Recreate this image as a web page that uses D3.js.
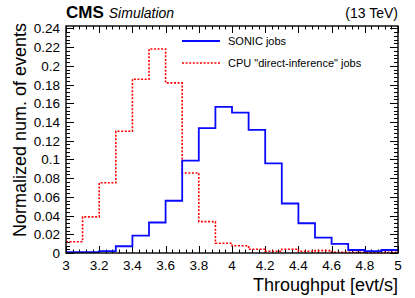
<!DOCTYPE html>
<html>
<head>
<meta charset="utf-8">
<script src="https://cdn.jsdelivr.net/npm/d3@7"></script>
<style>
  body { margin: 0; background: #fff; }
  text { font-family: "Liberation Sans", Arial, sans-serif; fill: #000; }
</style>
</head>
<body>
<div id="chart"></div>
<script>
// bin edges (evt/s), 0.1 wide
const binEdges = [3.0, 3.1, 3.2, 3.3, 3.4, 3.5, 3.6, 3.7, 3.8, 3.9, 4.0,
  4.1, 4.2, 4.3, 4.4, 4.5, 4.6, 4.7, 4.8, 4.9, 5.0]

const sonicJobs = [0.001, 0.001, 0.002, 0.0072, 0.0186, 0.0326, 0.0558, 0.0987,
  0.1334, 0.156, 0.150, 0.1316, 0.0958, 0.0529, 0.0318, 0.0165, 0.0097, 0.0032,
  0.0021, 0.0032]

const cpuJobs = [0.012, 0.0386, 0.075, 0.130, 0.1856, 0.218, 0.1817, 0.0855,
  0.0335, 0.0104, 0.0078, 0.004, 0.0018, 0.004, 0.0018, 0.0025, 0.0008, 0.0008,
  0.0005, 0.0008]

const xTicks = [3, 3.2, 3.4, 3.6, 3.8, 4, 4.2, 4.4, 4.6, 4.8, 5]
const xTickLabels = ['3', '3.2', '3.4', '3.6', '3.8', '4', '4.2', '4.4', '4.6', '4.8', '5']
const yTicks = [0, 0.02, 0.04, 0.06, 0.08, 0.1, 0.12, 0.14, 0.16, 0.18, 0.2, 0.22, 0.24]
const yTickLabels = ['0', '0.02', '0.04', '0.06', '0.08', '0.1', '0.12', '0.14', '0.16', '0.18', '0.2', '0.22', '0.24']

const seriesNames = ['SONIC jobs', 'CPU "direct-inference" jobs']

const render = () => {
  const width = 415
  const height = 298
  const margin = { top: 26, right: 17, bottom: 45, left: 66 }

  const svg = d3
    .select('#chart')
    .append('svg')
    .attr('width', width)
    .attr('height', height)

  const xScale = d3
    .scaleLinear()
    .domain([3, 5])
    .range([margin.left, width - margin.right])

  const yScale = d3
    .scaleLinear()
    .domain([0, 0.2425])
    .range([height - margin.bottom, margin.top])

  const x0 = margin.left
  const x1 = width - margin.right
  const y0 = height - margin.bottom
  const y1 = margin.top

  // minor ticks, ROOT style (5 per major division)
  const xMinor = d3.range(0, 51).map((i) => 3 + i * 0.04)
  const yMinor = d3.range(0, 61).map((i) => i * 0.004).filter((v) => v <= 0.2425)

  const ticks = svg.append('g').attr('stroke', '#000').attr('stroke-width', 1)

  const addXTicks = (values, len) => {
    values.forEach((v) => {
      const x = Math.round(xScale(v)) + 0.5
      ticks.append('line').attr('x1', x).attr('x2', x).attr('y1', y0).attr('y2', y0 - len)
      ticks.append('line').attr('x1', x).attr('x2', x).attr('y1', y1).attr('y2', y1 + len)
    })
  }
  const addYTicks = (values, len) => {
    values.forEach((v) => {
      const y = Math.round(yScale(v)) + 0.5
      ticks.append('line').attr('x1', x0).attr('x2', x0 + len).attr('y1', y).attr('y2', y)
      ticks.append('line').attr('x1', x1).attr('x2', x1 - len).attr('y1', y).attr('y2', y)
    })
  }
  addXTicks(xMinor, 3.5)
  addXTicks(xTicks, 7)
  addYTicks(yMinor, 4)
  addYTicks(yTicks, 8)

  // histograms
  const stepLine = (values) => {
    const pts = []
    values.forEach((v, i) => {
      pts.push([xScale(binEdges[i]), yScale(v)])
      pts.push([xScale(binEdges[i + 1]), yScale(v)])
    })
    return d3.line()(pts)
  }

  svg
    .append('path')
    .attr('d', stepLine(cpuJobs))
    .attr('fill', 'none')
    .attr('stroke', '#ff0000')
    .attr('stroke-width', 1.6)
    .attr('stroke-dasharray', '2,1.6')

  svg
    .append('path')
    .attr('d', stepLine(sonicJobs))
    .attr('fill', 'none')
    .attr('stroke', '#0a0aff')
    .attr('stroke-width', 1.8)

  // frame
  svg
    .append('rect')
    .attr('x', x0)
    .attr('y', y1)
    .attr('width', x1 - x0)
    .attr('height', y0 - y1)
    .attr('fill', 'none')
    .attr('stroke', '#000')
    .attr('stroke-width', 1.4)

  // tick labels
  svg
    .append('g')
    .selectAll('text')
    .data(xTicks)
    .enter()
    .append('text')
    .attr('x', (d) => xScale(d))
    .attr('y', y0 + 17)
    .attr('text-anchor', 'middle')
    .attr('font-size', 13.5)
    .text((d, i) => xTickLabels[i])

  svg
    .append('g')
    .selectAll('text')
    .data(yTicks)
    .enter()
    .append('text')
    .attr('x', x0 - 6)
    .attr('y', (d) => yScale(d) + 5)
    .attr('text-anchor', 'end')
    .attr('font-size', 13.5)
    .text((d, i) => yTickLabels[i])

  // axis titles
  svg
    .append('text')
    .attr('x', x1)
    .attr('y', 291)
    .attr('text-anchor', 'end')
    .attr('font-size', 18)
    .text('Throughput [evt/s]')

  svg
    .append('text')
    .attr('transform', `translate(26, ${y1 - 3}) rotate(-90)`)
    .attr('text-anchor', 'end')
    .attr('font-size', 18)
    .text('Normalized num. of events')

  // header
  const header = svg.append('text').attr('x', x0).attr('y', 18)
  header.append('tspan').attr('font-weight', 'bold').attr('font-size', 17).text('CMS')
  header.append('tspan').attr('font-style', 'italic').attr('font-size', 14).attr('dx', 5).text('Simulation')

  svg
    .append('text')
    .attr('x', x1)
    .attr('y', 18)
    .attr('text-anchor', 'end')
    .attr('font-size', 14)
    .text('(13 TeV)')

  // legend
  const legend = svg.append('g')
  const legendStyles = [
    { stroke: '#0a0aff', dash: null, width: 1.8 },
    { stroke: '#ff0000', dash: '2,1.6', width: 1.6 },
  ]
  seriesNames.forEach((name, i) => {
    const y = 41 + i * 22
    legend
      .append('line')
      .attr('x1', 182)
      .attr('x2', 220)
      .attr('y1', y)
      .attr('y2', y)
      .attr('stroke', legendStyles[i].stroke)
      .attr('stroke-width', legendStyles[i].width)
      .attr('stroke-dasharray', legendStyles[i].dash)
    legend
      .append('text')
      .attr('x', 228)
      .attr('y', y + 4)
      .attr('font-size', 11)
      .text(name)
  })
}

render()
</script>
</body>
</html>
